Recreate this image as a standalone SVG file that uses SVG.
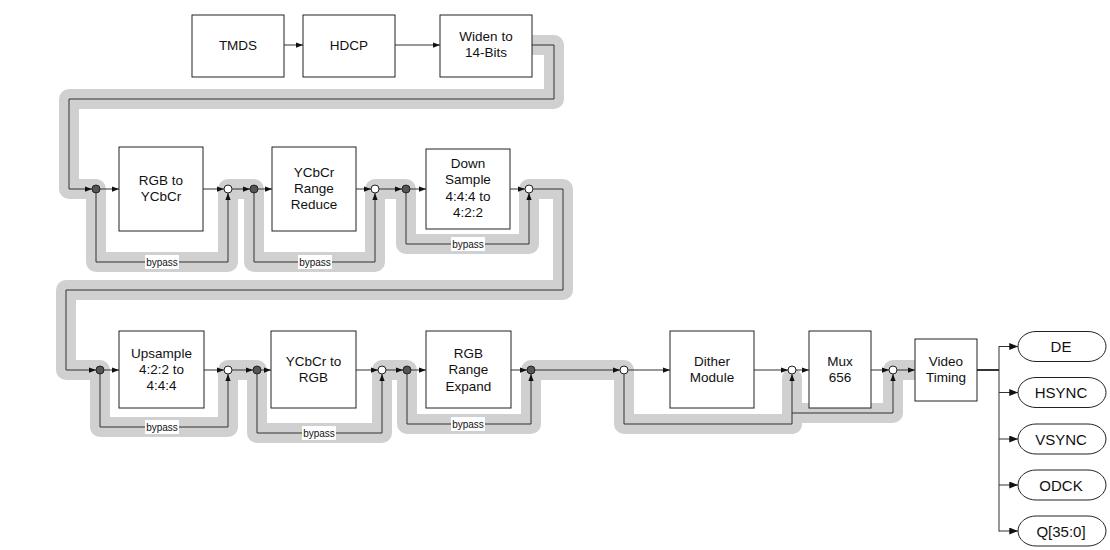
<svg xmlns="http://www.w3.org/2000/svg" width="1110" height="550" viewBox="0 0 1110 550">
<defs>
<style>
.bx{fill:#fff;stroke:#222;stroke-width:1}
.t{font-family:"Liberation Sans",Arial,sans-serif;font-size:13.5px;fill:#111;text-anchor:middle}
.tp{font-family:"Liberation Sans",Arial,sans-serif;font-size:15px;fill:#111;text-anchor:middle}
.bp{font-family:"Liberation Sans",Arial,sans-serif;font-size:10px;fill:#111;text-anchor:middle}
.ln{fill:none;stroke:#333;stroke-width:1}
.ar{fill:none;stroke:#333;stroke-width:1;marker-end:url(#a)}
.arb{fill:none;stroke:#333;stroke-width:1;marker-end:url(#b)}
.dk{fill:#555;stroke:#222;stroke-width:1}
.wh{fill:#fff;stroke:#222;stroke-width:1}
.hl{fill:none;stroke:#d0d0d0;stroke-width:20;stroke-linejoin:round;stroke-linecap:butt}
.lb{fill:#fff}
</style>
<marker id="a" viewBox="0 0 8 6" refX="8" refY="3" markerWidth="7" markerHeight="5.5" orient="auto" markerUnits="userSpaceOnUse"><path d="M0,0 L8,3 L0,6 Z" fill="#111"/></marker>
<marker id="b" viewBox="0 0 10 8" refX="10" refY="4" markerWidth="9" markerHeight="7" orient="auto" markerUnits="userSpaceOnUse"><path d="M0,0 L10,4 L0,8 Z" fill="#111"/></marker>
</defs>
<rect x="0" y="0" width="1110" height="550" fill="#fff"/>

<g id="highlight">
<path class="hl" d="M532,45 H554 V99 H69 V189 H96 V262 H228 V189 H254 V262 H375 V189 H406 V244 H529 V189 H563 V290 H66 V370 H100 V427 H228 V370 H257 V433 H382 V370 H407 V424 H531 V370 H624 V424 H792 V413 H893 V370 H915"/>
<path class="hl" d="M792,424 V378" style="stroke-linecap:round"/>
</g>

<g id="connectors">
<path class="ar" d="M284,45 H303"/>
<path class="ar" d="M395,45 H440"/>
<path class="ar" d="M532,45 H554 V99 H69 V189 H92"/>
<path class="ar" d="M100,189 H119"/>
<path class="ar" d="M203,189 H224"/>
<path class="ar" d="M96,193 V262 H228 V193"/>
<path class="ar" d="M232,189 H250"/>
<path class="ar" d="M258,189 H272"/>
<path class="ar" d="M356,189 H371"/>
<path class="ar" d="M254,193 V262 H375 V193"/>
<path class="ar" d="M379,189 H402"/>
<path class="ar" d="M410,189 H426"/>
<path class="ar" d="M510,189 H525"/>
<path class="ar" d="M406,193 V244 H529 V193"/>
<path class="ar" d="M533,189 H563 V290 H66 V370 H96"/>
<path class="ar" d="M104,370 H119"/>
<path class="ar" d="M204,370 H224"/>
<path class="ar" d="M100,374 V427 H228 V374"/>
<path class="ar" d="M232,370 H253"/>
<path class="ar" d="M261,370 H271"/>
<path class="ar" d="M356,370 H378"/>
<path class="ar" d="M257,374 V433 H382 V374"/>
<path class="ar" d="M386,370 H403"/>
<path class="ar" d="M411,370 H426"/>
<path class="ar" d="M511,370 H527"/>
<path class="ar" d="M407,374 V424 H531 V374"/>
<path class="ar" d="M535,370 H620"/>
<path class="ar" d="M628,370 H670"/>
<path class="ar" d="M624,374 V424 H792 V374"/>
<path class="ar" d="M754,370 H788"/>
<path class="ar" d="M796,370 H809"/>
<path class="ar" d="M792,413 H893 V374"/>
<path class="ar" d="M871,370 H889"/>
<path class="ar" d="M897,370 H915"/>
<path class="ln" d="M977,370 H999" style="stroke-width:2"/>
<path class="ln" d="M999,346 V531.5"/>
<path class="arb" d="M999,346.5 H1018"/>
<path class="arb" d="M999,392.5 H1018"/>
<path class="arb" d="M999,439 H1018"/>
<path class="arb" d="M999,485 H1018"/>
<path class="arb" d="M999,531 H1018"/>
<g id="bypass-labels">
<rect class="lb" x="145" y="255" width="34" height="14"/><text class="bp" x="162" y="265.5">bypass</text>
<rect class="lb" x="298" y="255" width="34" height="14"/><text class="bp" x="315" y="265.5">bypass</text>
<rect class="lb" x="451" y="237" width="34" height="14"/><text class="bp" x="468" y="247.5">bypass</text>
<rect class="lb" x="145" y="420" width="34" height="14"/><text class="bp" x="162" y="430.5">bypass</text>
<rect class="lb" x="302" y="426" width="34" height="14"/><text class="bp" x="319" y="436.5">bypass</text>
<rect class="lb" x="451" y="417" width="34" height="14"/><text class="bp" x="468" y="427.5">bypass</text>
</g>
</g>

<g id="junctions">
<circle class="dk" cx="96" cy="189" r="4"/>
<circle class="wh" cx="228" cy="189" r="4"/>
<circle class="dk" cx="254" cy="189" r="4"/>
<circle class="wh" cx="375" cy="189" r="4"/>
<circle class="dk" cx="406" cy="189" r="4"/>
<circle class="wh" cx="529" cy="189" r="4"/>
<circle class="dk" cx="100" cy="370" r="4"/>
<circle class="wh" cx="228" cy="370" r="4"/>
<circle class="dk" cx="257" cy="370" r="4"/>
<circle class="wh" cx="382" cy="370" r="4"/>
<circle class="dk" cx="407" cy="370" r="4"/>
<circle class="dk" cx="531" cy="370" r="4"/>
<circle class="wh" cx="624" cy="370" r="4"/>
<circle class="wh" cx="792" cy="370" r="4"/>
<circle class="wh" cx="893" cy="370" r="4"/>
</g>

<g id="tmds"><rect class="bx" x="192" y="15" width="92" height="62"/><text class="t" x="238" y="49.5">TMDS</text></g>
<g id="hdcp"><rect class="bx" x="303" y="15" width="92" height="62"/><text class="t" x="349" y="49.5">HDCP</text></g>
<g id="widen"><rect class="bx" x="440" y="15" width="92" height="62"/><text class="t" x="486" y="41">Widen to</text><text class="t" x="486" y="57">14-Bits</text></g>

<g id="rgb2ycbcr"><rect class="bx" x="119" y="147" width="84" height="84"/><text class="t" x="161" y="185">RGB to</text><text class="t" x="161" y="201">YCbCr</text></g>
<g id="rangereduce"><rect class="bx" x="272" y="147" width="84" height="84"/><text class="t" x="314" y="177">YCbCr</text><text class="t" x="314" y="193">Range</text><text class="t" x="314" y="209">Reduce</text></g>
<g id="downsample"><rect class="bx" x="426" y="149" width="84" height="80"/><text class="t" x="468" y="168">Down</text><text class="t" x="468" y="184.3">Sample</text><text class="t" x="468" y="200.6">4:4:4 to</text><text class="t" x="468" y="217">4:2:2</text></g>

<g id="upsample"><rect class="bx" x="119" y="331" width="85" height="77"/><text class="t" x="161.5" y="357.5">Upsample</text><text class="t" x="161.5" y="374">4:2:2 to</text><text class="t" x="161.5" y="390">4:4:4</text></g>
<g id="ycbcr2rgb"><rect class="bx" x="271" y="331" width="85" height="77"/><text class="t" x="313.5" y="365.5">YCbCr to</text><text class="t" x="313.5" y="381.5">RGB</text></g>
<g id="rangeexpand"><rect class="bx" x="426" y="331" width="85" height="77"/><text class="t" x="468.5" y="357.5">RGB</text><text class="t" x="468.5" y="374">Range</text><text class="t" x="468.5" y="390.5">Expand</text></g>
<g id="dither"><rect class="bx" x="670" y="331" width="84" height="77"/><text class="t" x="712" y="366">Dither</text><text class="t" x="712" y="382">Module</text></g>
<g id="mux"><rect class="bx" x="809" y="331" width="62" height="77"/><text class="t" x="840" y="365.5">Mux</text><text class="t" x="840" y="382">656</text></g>
<g id="videotiming"><rect class="bx" x="915" y="339" width="62" height="62"/><text class="t" x="946" y="365.5">Video</text><text class="t" x="946" y="382">Timing</text></g>

<g id="de"><path class="bx" d="M1036,331.5 H1088 A18,15 0 0 1 1088,361.5 H1036 A18,15 0 0 1 1036,331.5 Z"/><text class="tp" x="1061" y="352">DE</text></g>
<g id="hsync"><path class="bx" d="M1036,377.5 H1088 A18,15 0 0 1 1088,407.5 H1036 A18,15 0 0 1 1036,377.5 Z"/><text class="tp" x="1061" y="398">HSYNC</text></g>
<g id="vsync"><path class="bx" d="M1036,424 H1088 A18,15 0 0 1 1088,454 H1036 A18,15 0 0 1 1036,424 Z"/><text class="tp" x="1061" y="444.5">VSYNC</text></g>
<g id="odck"><path class="bx" d="M1036,470 H1088 A18,15 0 0 1 1088,500 H1036 A18,15 0 0 1 1036,470 Z"/><text class="tp" x="1061" y="490.5">ODCK</text></g>
<g id="q"><path class="bx" d="M1036,516 H1088 A18,15 0 0 1 1088,546 H1036 A18,15 0 0 1 1036,516 Z"/><text class="tp" x="1061" y="536.5">Q[35:0]</text></g>
</svg>
